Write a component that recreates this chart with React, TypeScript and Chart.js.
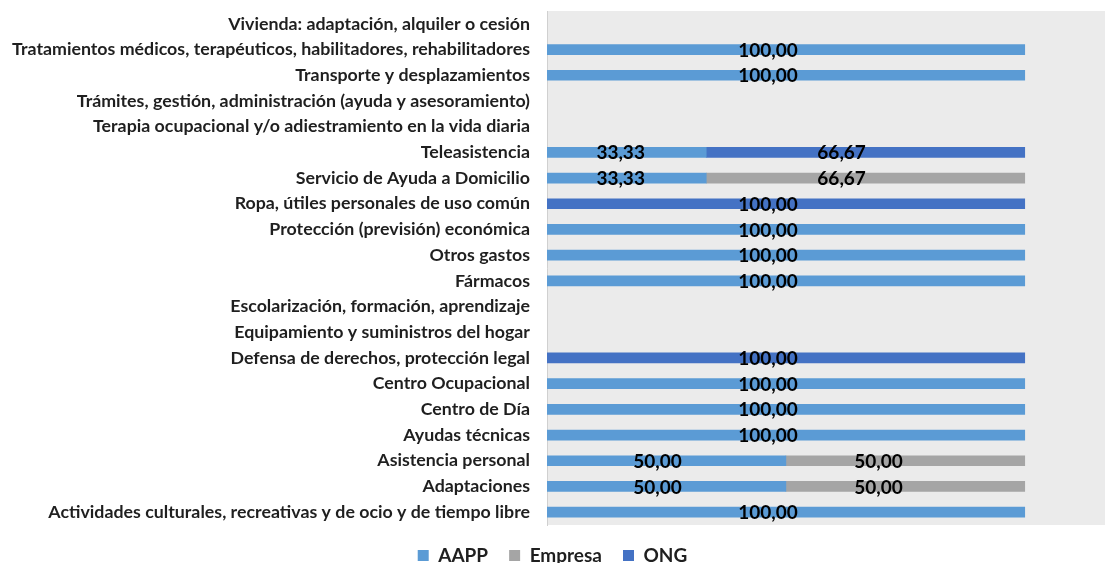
import React, { useEffect, useRef } from "react";
import { Chart, registerables } from "chart.js";

Chart.register(...registerables);

const categories = [
  "Vivienda: adaptación, alquiler o cesión",
  "Tratamientos médicos, terapéuticos, habilitadores, rehabilitadores",
  "Transporte y desplazamientos",
  "Trámites, gestión, administración (ayuda y asesoramiento)",
  "Terapia ocupacional y/o adiestramiento en la vida diaria",
  "Teleasistencia",
  "Servicio de Ayuda a Domicilio",
  "Ropa, útiles personales de uso común",
  "Protección (previsión) económica",
  "Otros gastos",
  "Fármacos",
  "Escolarización, formación, aprendizaje",
  "Equipamiento y suministros del hogar",
  "Defensa de derechos, protección legal",
  "Centro Ocupacional",
  "Centro de Día",
  "Ayudas técnicas",
  "Asistencia personal",
  "Adaptaciones",
  "Actividades culturales, recreativas y de ocio y de tiempo libre",
];

const aapp = [0, 100, 100, 0, 0, 33.33, 33.33, 0, 100, 100, 100, 0, 0, 0, 100, 100, 100, 50, 50, 100];
const empresa = [0, 0, 0, 0, 0, 0, 66.67, 0, 0, 0, 0, 0, 0, 0, 0, 0, 0, 50, 50, 0];
const ong = [0, 0, 0, 0, 0, 66.67, 0, 100, 0, 0, 0, 0, 0, 100, 0, 0, 0, 0, 0, 0];

const seriesNames = ["AAPP", "Empresa", "ONG"];
const seriesColors = ["#5b9bd5", "#a5a5a5", "#4472c4"];

const bgPlugin = {
  id: "plotBg",
  beforeDraw(chart: any) {
    const { ctx, chartArea } = chart;
    ctx.save();
    ctx.fillStyle = "#ebebeb";
    ctx.fillRect(chartArea.left, chartArea.top, chartArea.right - chartArea.left, chartArea.bottom - chartArea.top);
    ctx.restore();
  },
};

const labelPlugin = {
  id: "valueLabels",
  afterDatasetsDraw(chart: any) {
    const { ctx, chartArea } = chart;
    ctx.save();
    ctx.font = "bold 19px Lato";
    ctx.fillStyle = "#000000";
    ctx.textAlign = "center";
    ctx.textBaseline = "middle";
    chart.data.datasets.forEach((ds: any, di: number) => {
      const meta = chart.getDatasetMeta(di);
      meta.data.forEach((bar: any, i: number) => {
        const v = ds.data[i];
        if (!v) return;
        const mid = (bar.x + bar.base) / 2;
        const cx = chartArea.left + 0.925 * (mid - chartArea.left);
        ctx.fillText(v.toFixed(2).replace(".", ","), cx, bar.y + 1);
      });
    });
    ctx.restore();
  },
};

export default function App() {
  const ref = useRef<HTMLCanvasElement>(null);
  useEffect(() => {
    const chart = new Chart(ref.current as HTMLCanvasElement, {
      type: "bar",
      data: {
        labels: categories,
        datasets: [aapp, empresa, ong].map((d, i) => ({
          label: seriesNames[i],
          data: d.map((v) => (v === 0 ? null : v)),
          backgroundColor: seriesColors[i],
          barThickness: 10,
        })),
      },
      options: {
        indexAxis: "y",
        animation: false,
        responsive: false,
        maintainAspectRatio: false,
        layout: { padding: { top: 11, bottom: -12, right: 0, left: 0 } },
        scales: {
          x: { stacked: true, min: 0, max: 116.8, display: false },
          y: {
            stacked: true,
            grid: { display: false },
            border: { display: true, color: "#d0d0d0", width: 1 },
            ticks: {
              font: { family: "Lato", weight: "bold", size: 17.8 },
              color: "#1f1f1f",
              padding: 9,
              autoSkip: false,
            },
            afterFit(scale: any) {
              scale.width = 547;
              scale.paddingTop = 0;
              scale.paddingBottom = 0;
            },
          },
        },
        plugins: {
          legend: {
            position: "bottom",
            labels: {
              boxWidth: 11,
              boxHeight: 11,
              padding: 21,
              color: "#1f1f1f",
              font: { family: "Lato", weight: "bold", size: 19 },
            },
          },
          tooltip: { enabled: false },
        },
      },
      plugins: [bgPlugin, labelPlugin],
    } as any);
    return () => chart.destroy();
  }, []);
  return (
    <div style={{ position: "absolute", left: 0, top: 0, width: 1105, height: 563, overflow: "hidden" }}>
      <canvas ref={ref} width={1105} height={563} />
    </div>
  );
}
